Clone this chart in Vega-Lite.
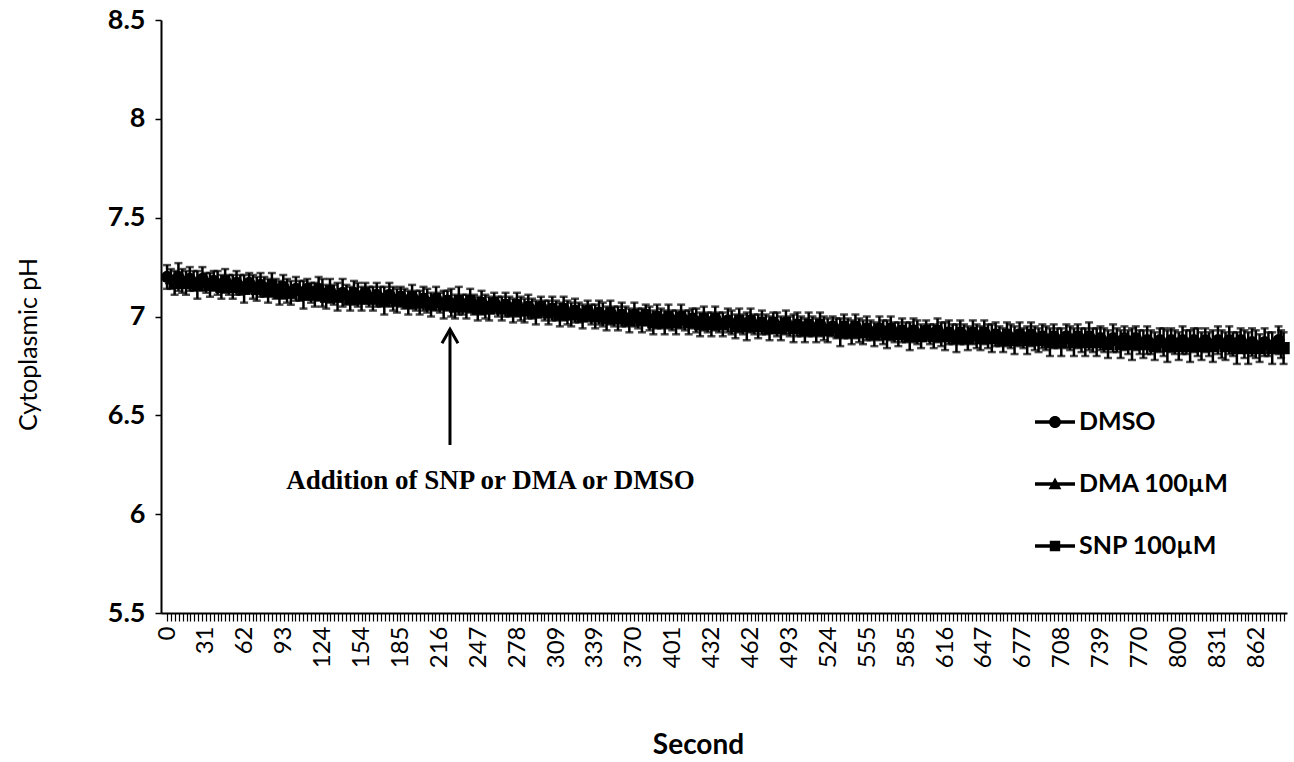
{
"$schema":"https://vega.github.io/schema/vega-lite/v6.json",
"width":1126,"height":593,
"autosize":{"type":"none"},
"padding":{"left":161,"top":20,"right":7,"bottom":149},
"background":"white",
"config":{"view":{"stroke":null},"font":"Lato","axis":{"grid":false,"domainColor":"black","tickColor":"black","labelColor":"black","titleColor":"black"}},
"datasets":{
"ann":[{"t":224,"y1":6.35,"y2":6.935,"tx":256,"ty":6.17,"label":"Addition of SNP or DMA or DMSO"}],
"d":[
{"s":"DMSO","t":0,"y":7.20,"e":0.06},{"s":"DMSO","t":9,"y":7.20,"e":0.07},{"s":"DMSO","t":18,"y":7.19,"e":0.06},{"s":"DMSO","t":28,"y":7.19,"e":0.06},{"s":"DMSO","t":37,"y":7.18,"e":0.05},{"s":"DMSO","t":46,"y":7.18,"e":0.06},{"s":"DMSO","t":55,"y":7.17,"e":0.06},{"s":"DMSO","t":65,"y":7.17,"e":0.05},{"s":"DMSO","t":74,"y":7.16,"e":0.06},{"s":"DMSO","t":83,"y":7.16,"e":0.06},
{"s":"DMSO","t":92,"y":7.15,"e":0.06},{"s":"DMSO","t":102,"y":7.14,"e":0.06},{"s":"DMSO","t":111,"y":7.14,"e":0.05},{"s":"DMSO","t":120,"y":7.14,"e":0.06},{"s":"DMSO","t":129,"y":7.13,"e":0.06},{"s":"DMSO","t":139,"y":7.12,"e":0.07},{"s":"DMSO","t":148,"y":7.12,"e":0.06},{"s":"DMSO","t":157,"y":7.12,"e":0.05},{"s":"DMSO","t":166,"y":7.11,"e":0.06},{"s":"DMSO","t":176,"y":7.11,"e":0.06},
{"s":"DMSO","t":185,"y":7.10,"e":0.05},{"s":"DMSO","t":194,"y":7.10,"e":0.06},{"s":"DMSO","t":203,"y":7.09,"e":0.06},{"s":"DMSO","t":213,"y":7.09,"e":0.06},{"s":"DMSO","t":222,"y":7.08,"e":0.05},{"s":"DMSO","t":231,"y":7.08,"e":0.07},{"s":"DMSO","t":240,"y":7.08,"e":0.06},{"s":"DMSO","t":249,"y":7.07,"e":0.06},{"s":"DMSO","t":259,"y":7.07,"e":0.05},{"s":"DMSO","t":268,"y":7.06,"e":0.06},
{"s":"DMSO","t":277,"y":7.06,"e":0.06},{"s":"DMSO","t":286,"y":7.05,"e":0.06},{"s":"DMSO","t":296,"y":7.05,"e":0.05},{"s":"DMSO","t":305,"y":7.04,"e":0.06},{"s":"DMSO","t":314,"y":7.04,"e":0.06},{"s":"DMSO","t":323,"y":7.03,"e":0.06},{"s":"DMSO","t":333,"y":7.03,"e":0.05},{"s":"DMSO","t":342,"y":7.02,"e":0.06},{"s":"DMSO","t":351,"y":7.02,"e":0.06},{"s":"DMSO","t":360,"y":7.01,"e":0.06},
{"s":"DMSO","t":370,"y":7.01,"e":0.06},{"s":"DMSO","t":379,"y":7.01,"e":0.05},{"s":"DMSO","t":388,"y":7.00,"e":0.06},{"s":"DMSO","t":397,"y":7.00,"e":0.06},{"s":"DMSO","t":407,"y":7.00,"e":0.06},{"s":"DMSO","t":416,"y":6.99,"e":0.05},{"s":"DMSO","t":425,"y":6.99,"e":0.06},{"s":"DMSO","t":434,"y":6.99,"e":0.06},{"s":"DMSO","t":444,"y":6.98,"e":0.06},{"s":"DMSO","t":453,"y":6.98,"e":0.06},
{"s":"DMSO","t":462,"y":6.98,"e":0.06},{"s":"DMSO","t":471,"y":6.97,"e":0.06},{"s":"DMSO","t":480,"y":6.97,"e":0.05},{"s":"DMSO","t":490,"y":6.97,"e":0.06},{"s":"DMSO","t":499,"y":6.96,"e":0.06},{"s":"DMSO","t":508,"y":6.96,"e":0.06},{"s":"DMSO","t":517,"y":6.96,"e":0.06},{"s":"DMSO","t":527,"y":6.95,"e":0.05},{"s":"DMSO","t":536,"y":6.95,"e":0.06},{"s":"DMSO","t":545,"y":6.95,"e":0.06},
{"s":"DMSO","t":554,"y":6.94,"e":0.06},{"s":"DMSO","t":564,"y":6.94,"e":0.06},{"s":"DMSO","t":573,"y":6.94,"e":0.06},{"s":"DMSO","t":582,"y":6.93,"e":0.06},{"s":"DMSO","t":591,"y":6.93,"e":0.06},{"s":"DMSO","t":601,"y":6.93,"e":0.05},{"s":"DMSO","t":610,"y":6.93,"e":0.06},{"s":"DMSO","t":619,"y":6.92,"e":0.06},{"s":"DMSO","t":628,"y":6.92,"e":0.06},{"s":"DMSO","t":638,"y":6.92,"e":0.06},
{"s":"DMSO","t":647,"y":6.92,"e":0.06},{"s":"DMSO","t":656,"y":6.91,"e":0.06},{"s":"DMSO","t":665,"y":6.91,"e":0.06},{"s":"DMSO","t":675,"y":6.91,"e":0.06},{"s":"DMSO","t":684,"y":6.91,"e":0.06},{"s":"DMSO","t":693,"y":6.90,"e":0.06},{"s":"DMSO","t":702,"y":6.90,"e":0.06},{"s":"DMSO","t":712,"y":6.90,"e":0.06},{"s":"DMSO","t":721,"y":6.90,"e":0.06},{"s":"DMSO","t":730,"y":6.90,"e":0.07},
{"s":"DMSO","t":739,"y":6.89,"e":0.06},{"s":"DMSO","t":749,"y":6.89,"e":0.07},{"s":"DMSO","t":758,"y":6.89,"e":0.06},{"s":"DMSO","t":767,"y":6.89,"e":0.06},{"s":"DMSO","t":776,"y":6.88,"e":0.07},{"s":"DMSO","t":786,"y":6.88,"e":0.06},{"s":"DMSO","t":795,"y":6.88,"e":0.06},{"s":"DMSO","t":804,"y":6.88,"e":0.07},{"s":"DMSO","t":813,"y":6.88,"e":0.06},{"s":"DMSO","t":822,"y":6.88,"e":0.06},
{"s":"DMSO","t":832,"y":6.88,"e":0.07},{"s":"DMSO","t":841,"y":6.88,"e":0.07},{"s":"DMSO","t":850,"y":6.88,"e":0.06},{"s":"DMSO","t":859,"y":6.87,"e":0.07},{"s":"DMSO","t":869,"y":6.87,"e":0.07},{"s":"DMSO","t":880,"y":6.88,"e":0.07},
{"s":"DMA 100µM","t":3,"y":7.19,"e":0.05},{"s":"DMA 100µM","t":12,"y":7.18,"e":0.06},{"s":"DMA 100µM","t":21,"y":7.18,"e":0.05},{"s":"DMA 100µM","t":31,"y":7.17,"e":0.05},{"s":"DMA 100µM","t":40,"y":7.17,"e":0.06},{"s":"DMA 100µM","t":49,"y":7.16,"e":0.05},{"s":"DMA 100µM","t":58,"y":7.16,"e":0.05},{"s":"DMA 100µM","t":68,"y":7.15,"e":0.06},{"s":"DMA 100µM","t":77,"y":7.15,"e":0.05},{"s":"DMA 100µM","t":86,"y":7.14,"e":0.05},
{"s":"DMA 100µM","t":95,"y":7.13,"e":0.06},{"s":"DMA 100µM","t":105,"y":7.13,"e":0.05},{"s":"DMA 100µM","t":114,"y":7.12,"e":0.05},{"s":"DMA 100µM","t":123,"y":7.12,"e":0.07},{"s":"DMA 100µM","t":132,"y":7.11,"e":0.05},{"s":"DMA 100µM","t":142,"y":7.11,"e":0.05},{"s":"DMA 100µM","t":151,"y":7.11,"e":0.06},{"s":"DMA 100µM","t":160,"y":7.10,"e":0.05},{"s":"DMA 100µM","t":169,"y":7.10,"e":0.05},{"s":"DMA 100µM","t":179,"y":7.09,"e":0.06},
{"s":"DMA 100µM","t":188,"y":7.09,"e":0.05},{"s":"DMA 100µM","t":197,"y":7.08,"e":0.05},{"s":"DMA 100µM","t":206,"y":7.08,"e":0.06},{"s":"DMA 100µM","t":216,"y":7.07,"e":0.05},{"s":"DMA 100µM","t":225,"y":7.07,"e":0.07},{"s":"DMA 100µM","t":234,"y":7.06,"e":0.05},{"s":"DMA 100µM","t":243,"y":7.06,"e":0.05},{"s":"DMA 100µM","t":252,"y":7.05,"e":0.06},{"s":"DMA 100µM","t":262,"y":7.05,"e":0.05},{"s":"DMA 100µM","t":271,"y":7.05,"e":0.05},
{"s":"DMA 100µM","t":280,"y":7.04,"e":0.06},{"s":"DMA 100µM","t":289,"y":7.04,"e":0.05},{"s":"DMA 100µM","t":299,"y":7.03,"e":0.05},{"s":"DMA 100µM","t":308,"y":7.03,"e":0.05},{"s":"DMA 100µM","t":317,"y":7.02,"e":0.06},{"s":"DMA 100µM","t":326,"y":7.02,"e":0.05},{"s":"DMA 100µM","t":336,"y":7.01,"e":0.05},{"s":"DMA 100µM","t":345,"y":7.01,"e":0.06},{"s":"DMA 100µM","t":354,"y":7.00,"e":0.05},{"s":"DMA 100µM","t":363,"y":7.00,"e":0.05},
{"s":"DMA 100µM","t":373,"y":6.99,"e":0.05},{"s":"DMA 100µM","t":382,"y":6.99,"e":0.06},{"s":"DMA 100µM","t":391,"y":6.99,"e":0.05},{"s":"DMA 100µM","t":400,"y":6.98,"e":0.05},{"s":"DMA 100µM","t":410,"y":6.98,"e":0.05},{"s":"DMA 100µM","t":419,"y":6.98,"e":0.06},{"s":"DMA 100µM","t":428,"y":6.97,"e":0.05},{"s":"DMA 100µM","t":437,"y":6.97,"e":0.05},{"s":"DMA 100µM","t":447,"y":6.97,"e":0.06},{"s":"DMA 100µM","t":456,"y":6.96,"e":0.05},
{"s":"DMA 100µM","t":465,"y":6.96,"e":0.05},{"s":"DMA 100µM","t":474,"y":6.96,"e":0.05},{"s":"DMA 100µM","t":483,"y":6.96,"e":0.06},{"s":"DMA 100µM","t":493,"y":6.95,"e":0.05},{"s":"DMA 100µM","t":502,"y":6.95,"e":0.05},{"s":"DMA 100µM","t":511,"y":6.95,"e":0.05},{"s":"DMA 100µM","t":520,"y":6.94,"e":0.06},{"s":"DMA 100µM","t":530,"y":6.94,"e":0.05},{"s":"DMA 100µM","t":539,"y":6.94,"e":0.05},{"s":"DMA 100µM","t":548,"y":6.93,"e":0.06},
{"s":"DMA 100µM","t":557,"y":6.93,"e":0.05},{"s":"DMA 100µM","t":567,"y":6.92,"e":0.06},{"s":"DMA 100µM","t":576,"y":6.92,"e":0.05},{"s":"DMA 100µM","t":585,"y":6.92,"e":0.05},{"s":"DMA 100µM","t":594,"y":6.92,"e":0.06},{"s":"DMA 100µM","t":604,"y":6.91,"e":0.05},{"s":"DMA 100µM","t":613,"y":6.91,"e":0.06},{"s":"DMA 100µM","t":622,"y":6.91,"e":0.05},{"s":"DMA 100µM","t":631,"y":6.91,"e":0.05},{"s":"DMA 100µM","t":641,"y":6.90,"e":0.06},
{"s":"DMA 100µM","t":650,"y":6.90,"e":0.06},{"s":"DMA 100µM","t":659,"y":6.90,"e":0.05},{"s":"DMA 100µM","t":668,"y":6.90,"e":0.06},{"s":"DMA 100µM","t":678,"y":6.89,"e":0.05},{"s":"DMA 100µM","t":687,"y":6.89,"e":0.06},{"s":"DMA 100µM","t":696,"y":6.89,"e":0.06},{"s":"DMA 100µM","t":705,"y":6.89,"e":0.05},{"s":"DMA 100µM","t":715,"y":6.89,"e":0.06},{"s":"DMA 100µM","t":724,"y":6.88,"e":0.06},{"s":"DMA 100µM","t":733,"y":6.88,"e":0.06},
{"s":"DMA 100µM","t":742,"y":6.88,"e":0.06},{"s":"DMA 100µM","t":752,"y":6.88,"e":0.06},{"s":"DMA 100µM","t":761,"y":6.87,"e":0.06},{"s":"DMA 100µM","t":770,"y":6.87,"e":0.06},{"s":"DMA 100µM","t":779,"y":6.87,"e":0.06},{"s":"DMA 100µM","t":789,"y":6.87,"e":0.07},{"s":"DMA 100µM","t":798,"y":6.87,"e":0.06},{"s":"DMA 100µM","t":807,"y":6.87,"e":0.06},{"s":"DMA 100µM","t":816,"y":6.87,"e":0.07},{"s":"DMA 100µM","t":825,"y":6.86,"e":0.06},
{"s":"DMA 100µM","t":835,"y":6.86,"e":0.07},{"s":"DMA 100µM","t":844,"y":6.86,"e":0.06},{"s":"DMA 100µM","t":853,"y":6.86,"e":0.07},{"s":"DMA 100µM","t":862,"y":6.86,"e":0.07},{"s":"DMA 100µM","t":872,"y":6.86,"e":0.06},{"s":"DMA 100µM","t":882,"y":6.86,"e":0.07},
{"s":"SNP 100µM","t":6,"y":7.17,"e":0.06},{"s":"SNP 100µM","t":15,"y":7.17,"e":0.06},{"s":"SNP 100µM","t":24,"y":7.16,"e":0.07},{"s":"SNP 100µM","t":34,"y":7.16,"e":0.06},{"s":"SNP 100µM","t":43,"y":7.15,"e":0.06},{"s":"SNP 100µM","t":52,"y":7.15,"e":0.06},{"s":"SNP 100µM","t":61,"y":7.14,"e":0.07},{"s":"SNP 100µM","t":71,"y":7.14,"e":0.06},{"s":"SNP 100µM","t":80,"y":7.13,"e":0.06},{"s":"SNP 100µM","t":89,"y":7.12,"e":0.06},
{"s":"SNP 100µM","t":98,"y":7.12,"e":0.06},{"s":"SNP 100µM","t":108,"y":7.11,"e":0.07},{"s":"SNP 100µM","t":117,"y":7.11,"e":0.06},{"s":"SNP 100µM","t":126,"y":7.10,"e":0.06},{"s":"SNP 100µM","t":135,"y":7.10,"e":0.07},{"s":"SNP 100µM","t":145,"y":7.09,"e":0.06},{"s":"SNP 100µM","t":154,"y":7.09,"e":0.06},{"s":"SNP 100µM","t":163,"y":7.09,"e":0.06},{"s":"SNP 100µM","t":172,"y":7.08,"e":0.07},{"s":"SNP 100µM","t":182,"y":7.08,"e":0.06},
{"s":"SNP 100µM","t":191,"y":7.07,"e":0.06},{"s":"SNP 100µM","t":200,"y":7.07,"e":0.06},{"s":"SNP 100µM","t":209,"y":7.06,"e":0.06},{"s":"SNP 100µM","t":219,"y":7.06,"e":0.07},{"s":"SNP 100µM","t":228,"y":7.05,"e":0.06},{"s":"SNP 100µM","t":237,"y":7.05,"e":0.06},{"s":"SNP 100µM","t":246,"y":7.04,"e":0.06},{"s":"SNP 100µM","t":255,"y":7.04,"e":0.06},{"s":"SNP 100µM","t":265,"y":7.04,"e":0.06},{"s":"SNP 100µM","t":274,"y":7.03,"e":0.06},
{"s":"SNP 100µM","t":283,"y":7.03,"e":0.06},{"s":"SNP 100µM","t":292,"y":7.02,"e":0.06},{"s":"SNP 100µM","t":302,"y":7.02,"e":0.06},{"s":"SNP 100µM","t":311,"y":7.01,"e":0.06},{"s":"SNP 100µM","t":320,"y":7.01,"e":0.06},{"s":"SNP 100µM","t":329,"y":7.00,"e":0.06},{"s":"SNP 100µM","t":339,"y":7.00,"e":0.06},{"s":"SNP 100µM","t":348,"y":6.99,"e":0.06},{"s":"SNP 100µM","t":357,"y":6.99,"e":0.06},{"s":"SNP 100µM","t":366,"y":6.98,"e":0.06},
{"s":"SNP 100µM","t":376,"y":6.98,"e":0.06},{"s":"SNP 100µM","t":385,"y":6.97,"e":0.06},{"s":"SNP 100µM","t":394,"y":6.97,"e":0.06},{"s":"SNP 100µM","t":403,"y":6.97,"e":0.06},{"s":"SNP 100µM","t":413,"y":6.97,"e":0.06},{"s":"SNP 100µM","t":422,"y":6.96,"e":0.06},{"s":"SNP 100µM","t":431,"y":6.96,"e":0.06},{"s":"SNP 100µM","t":440,"y":6.96,"e":0.06},{"s":"SNP 100µM","t":450,"y":6.95,"e":0.06},{"s":"SNP 100µM","t":459,"y":6.95,"e":0.07},
{"s":"SNP 100µM","t":468,"y":6.95,"e":0.06},{"s":"SNP 100µM","t":477,"y":6.94,"e":0.06},{"s":"SNP 100µM","t":486,"y":6.94,"e":0.06},{"s":"SNP 100µM","t":496,"y":6.94,"e":0.07},{"s":"SNP 100µM","t":505,"y":6.93,"e":0.06},{"s":"SNP 100µM","t":514,"y":6.93,"e":0.06},{"s":"SNP 100µM","t":523,"y":6.93,"e":0.06},{"s":"SNP 100µM","t":533,"y":6.92,"e":0.07},{"s":"SNP 100µM","t":542,"y":6.92,"e":0.06},{"s":"SNP 100µM","t":551,"y":6.92,"e":0.06},
{"s":"SNP 100µM","t":560,"y":6.91,"e":0.06},{"s":"SNP 100µM","t":570,"y":6.91,"e":0.07},{"s":"SNP 100µM","t":579,"y":6.91,"e":0.06},{"s":"SNP 100µM","t":588,"y":6.90,"e":0.07},{"s":"SNP 100µM","t":597,"y":6.90,"e":0.06},{"s":"SNP 100µM","t":607,"y":6.90,"e":0.06},{"s":"SNP 100µM","t":616,"y":6.90,"e":0.07},{"s":"SNP 100µM","t":625,"y":6.89,"e":0.07},{"s":"SNP 100µM","t":634,"y":6.89,"e":0.06},{"s":"SNP 100µM","t":644,"y":6.89,"e":0.06},
{"s":"SNP 100µM","t":653,"y":6.89,"e":0.07},{"s":"SNP 100µM","t":662,"y":6.88,"e":0.06},{"s":"SNP 100µM","t":671,"y":6.88,"e":0.07},{"s":"SNP 100µM","t":681,"y":6.88,"e":0.07},{"s":"SNP 100µM","t":690,"y":6.88,"e":0.06},{"s":"SNP 100µM","t":699,"y":6.87,"e":0.07},{"s":"SNP 100µM","t":708,"y":6.87,"e":0.07},{"s":"SNP 100µM","t":718,"y":6.87,"e":0.07},{"s":"SNP 100µM","t":727,"y":6.87,"e":0.07},{"s":"SNP 100µM","t":736,"y":6.87,"e":0.07},
{"s":"SNP 100µM","t":745,"y":6.86,"e":0.07},{"s":"SNP 100µM","t":755,"y":6.86,"e":0.07},{"s":"SNP 100µM","t":764,"y":6.86,"e":0.08},{"s":"SNP 100µM","t":773,"y":6.86,"e":0.07},{"s":"SNP 100µM","t":782,"y":6.85,"e":0.07},{"s":"SNP 100µM","t":792,"y":6.85,"e":0.08},{"s":"SNP 100µM","t":801,"y":6.85,"e":0.07},{"s":"SNP 100µM","t":810,"y":6.85,"e":0.08},{"s":"SNP 100µM","t":819,"y":6.85,"e":0.07},{"s":"SNP 100µM","t":828,"y":6.85,"e":0.08},
{"s":"SNP 100µM","t":838,"y":6.85,"e":0.07},{"s":"SNP 100µM","t":847,"y":6.84,"e":0.08},{"s":"SNP 100µM","t":856,"y":6.84,"e":0.08},{"s":"SNP 100µM","t":865,"y":6.84,"e":0.07},{"s":"SNP 100µM","t":875,"y":6.84,"e":0.08},{"s":"SNP 100µM","t":884,"y":6.84,"e":0.08}
]},
"resolve":{"scale":{"shape":"independent"}},
"layer":[
{"data":{"name":"d"},
 "mark":{"type":"errorbar","ticks":{"size":8},"color":"black","thickness":2.5},
 "encoding":{
  "x":{"field":"t","type":"quantitative","scale":{"domain":[-4.8,886.7],"nice":false,"zero":false},
   "axis":{"title":"Second","tickCount":400,"values":[0,3.1,6.2,9.2,12.3,15.4,18.5,21.6,24.6,27.7,30.8,33.9,37,40,43.1,46.2,49.3,52.4,55.4,58.5,61.6,64.7,67.8,70.8,73.9,77,80.1,83.2,86.2,89.3,92.4,95.5,98.6,101.6,104.7,107.8,110.9,114,117,120.1,123.2,126.3,129.4,132.4,135.5,138.6,141.7,144.8,147.8,150.9,154,157.1,160.2,163.2,166.3,169.4,172.5,175.6,178.6,181.7,184.8,187.9,191,194,197.1,200.2,203.3,206.4,209.4,212.5,215.6,218.7,221.8,224.8,227.9,231,234.1,237.2,240.2,243.3,246.4,249.5,252.6,255.6,258.7,261.8,264.9,268,271,274.1,277.2,280.3,283.4,286.4,289.5,292.6,295.7,298.8,301.8,304.9,308,311.1,314.2,317.2,320.3,323.4,326.5,329.6,332.6,335.7,338.8,341.9,345,348,351.1,354.2,357.3,360.4,363.4,366.5,369.6,372.7,375.8,378.8,381.9,385,388.1,391.2,394.2,397.3,400.4,403.5,406.6,409.6,412.7,415.8,418.9,422,425,428.1,431.2,434.3,437.4,440.4,443.5,446.6,449.7,452.8,455.8,458.9,462,465.1,468.2,471.2,474.3,477.4,480.5,483.6,486.6,489.7,492.8,495.9,499,502,505.1,508.2,511.3,514.4,517.4,520.5,523.6,526.7,529.8,532.8,535.9,539,542.1,545.2,548.2,551.3,554.4,557.5,560.6,563.6,566.7,569.8,572.9,576,579,582.1,585.2,588.3,591.4,594.4,597.5,600.6,603.7,606.8,609.8,612.9,616,619.1,622.2,625.2,628.3,631.4,634.5,637.6,640.6,643.7,646.8,649.9,653,656,659.1,662.2,665.3,668.4,671.4,674.5,677.6,680.7,683.8,686.8,689.9,693,696.1,699.2,702.2,705.3,708.4,711.5,714.6,717.6,720.7,723.8,726.9,730,733,736.1,739.2,742.3,745.4,748.4,751.5,754.6,757.7,760.8,763.8,766.9,770,773.1,776.2,779.2,782.3,785.4,788.5,791.6,794.6,797.7,800.8,803.9,807,810,813.1,816.2,819.3,822.4,825.4,828.5,831.6,834.7,837.8,840.8,843.9,847,850.1,853.2,856.2,859.3,862.4,865.5,868.6,871.6,874.7,877.8,880.9,884],
   "labelExpr":"abs(datum.value/30.8-round(datum.value/30.8))<0.001 ? ['0','31','62','93','124','154','185','216','247','278','309','339','370','401','432','462','493','524','555','585','616','647','677','708','739','770','800','831','862'][round(datum.value/30.8)] : ''",
   "labelAngle":270,"labelAlign":"right","labelBaseline":"middle","labelFontSize":24,"labelPadding":5,"labelDy":4,"labelOverlap":false,"labelFlush":false,"labelBound":false,
   "tickSize":8,"tickWidth":1.2,"domainWidth":2,
   "titleFontSize":28,"titleFontWeight":"bold","titleX":537,"titleY":132,"titleAlign":"center","titleBaseline":"middle"}},
  "y":{"field":"y","type":"quantitative","scale":{"domain":[5.5,8.5],"nice":false,"zero":false},
   "axis":{"title":"Cytoplasmic pH","values":[5.5,6,6.5,7,7.5,8,8.5],"format":".1~f","labelFontSize":27,"labelFontWeight":"bold","labelPadding":10,"tickSize":6,"tickWidth":1.5,"domainWidth":2,
   "titleFontSize":25,"titleFontWeight":"normal","titleX":-133,"titleY":324,"titleAngle":270,"titleAlign":"center","titleBaseline":"middle"}},
  "yError":{"field":"e"},
  "detail":{"field":"s"}}},
{"data":{"name":"d"},
 "mark":{"type":"line","color":"black","strokeWidth":3.5},
 "encoding":{"x":{"field":"t","type":"quantitative"},"y":{"field":"y","type":"quantitative"},"detail":{"field":"s"}}},
{"data":{"name":"d"},
 "mark":{"type":"point","filled":true,"color":"black","size":150,"opacity":1},
 "encoding":{"x":{"field":"t","type":"quantitative"},"y":{"field":"y","type":"quantitative"},
  "shape":{"field":"s","type":"nominal","scale":{"domain":["DMSO","DMA 100µM","SNP 100µM"],"range":["circle","triangle-up","square"]},"legend":null}}},
{"data":{"name":"d"},
 "mark":{"type":"point","filled":true,"color":"black","opacity":0},
 "encoding":{"x":{"field":"t","type":"quantitative"},"y":{"field":"y","type":"quantitative"},
  "shape":{"field":"s","type":"nominal","scale":{"domain":["DMSO","DMA 100µM","SNP 100µM"],"range":[
   "M-1,-0.09H1V0.09H-1Z M-0.3,0A0.3,0.3 0 1,1 0.3,0A0.3,0.3 0 1,1 -0.3,0Z",
   "M-1,-0.09H1V0.09H-1Z M-0.32,0.26L0,-0.32L0.32,0.26Z",
   "M-1,-0.09H1V0.09H-1Z M-0.26,-0.26H0.26V0.26H-0.26Z"]},
   "legend":{"title":null,"orient":"none","legendX":874,"legendY":382,"symbolSize":1600,"symbolOpacity":1,"symbolFillColor":"black","symbolStrokeColor":"black","symbolStrokeWidth":0,"labelFont":"Lato","labelFontSize":25,"labelFontWeight":"bold","labelColor":"black","labelOffset":4,"rowPadding":29,"padding":0}}}},
{"data":{"name":"ann"},
 "mark":{"type":"rule","color":"black","strokeWidth":3},
 "encoding":{"x":{"field":"t","type":"quantitative"},"y":{"field":"y1","type":"quantitative"},"y2":{"field":"y2"}}},
{"data":{"name":"ann"},
 "mark":{"type":"point","shape":"M-0.8,1.4L0,0L0.8,1.4","filled":false,"color":"black","strokeWidth":3,"size":400,"opacity":1},
 "encoding":{"x":{"field":"t","type":"quantitative"},"y":{"field":"y2","type":"quantitative"}}},
{"data":{"name":"ann"},
 "mark":{"type":"text","font":"Liberation Serif","fontWeight":"bold","fontSize":27,"color":"black"},
 "encoding":{"x":{"field":"tx","type":"quantitative"},"y":{"field":"ty","type":"quantitative"},"text":{"field":"label"}}}
]
}
